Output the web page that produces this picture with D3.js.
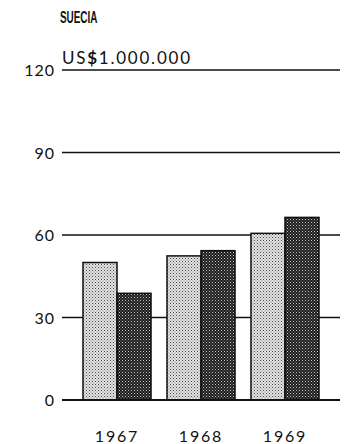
<!DOCTYPE html>
<html><head><meta charset="utf-8">
<script src="https://cdn.jsdelivr.net/npm/d3@7"></script>
<style>html,body{margin:0;padding:0;background:#fff}</style>
</head><body>
<script>
const title = "SUECIA";
const unitLabel = ["US", "$", "1.000.000"];
const years = ["1967", "1968", "1969"];
const seriesLight = [50, 52.4, 60.6];
const seriesDark = [38.8, 54.3, 66.4];
const yTicks = [0, 30, 60, 90, 120];

const W = 347, H = 444;
const svg = d3.select("body").append("svg").attr("width", W).attr("height", H);
const defs = svg.append("defs");

const pl = defs.append("pattern").attr("id", "pLight").attr("patternUnits", "userSpaceOnUse").attr("width", 3).attr("height", 3);
pl.append("rect").attr("width", 3).attr("height", 3).attr("fill", "#e4e4e4");
pl.append("rect").attr("width", 1).attr("height", 1).attr("fill", "#444");
pl.append("rect").attr("x", 1.5).attr("y", 1.5).attr("width", 1).attr("height", 1).attr("fill", "#777");
const pd = defs.append("pattern").attr("id", "pDark").attr("patternUnits", "userSpaceOnUse").attr("width", 3).attr("height", 3);
pd.append("rect").attr("width", 3).attr("height", 3).attr("fill", "#1c1c1c");
pd.append("rect").attr("width", 1).attr("height", 1).attr("fill", "#ccc");
pd.append("rect").attr("x", 1.5).attr("y", 1.5).attr("width", 1).attr("height", 1).attr("fill", "#999");

const y = d3.scaleLinear().domain([0, 120]).range([400, 70]);
const x = d3.scaleBand().domain(years).range([62, 340]).paddingInner(0.19).paddingOuter(0.25);
const xs = d3.scaleBand().domain(["light", "dark"]).range([0, x.bandwidth()]);

const font = "Lato, 'DejaVu Sans', sans-serif";

// gridlines
svg.append("g").selectAll("line").data(yTicks).join("line")
  .attr("x1", 62).attr("x2", 340)
  .attr("y1", d => y(d)).attr("y2", d => y(d))
  .attr("stroke", "#111").attr("stroke-width", d => d === 0 ? 2 : 1.5);

// y labels
svg.append("g").selectAll("text").data(yTicks).join("text")
  .attr("x", 55).attr("y", d => y(d) + 6)
  .attr("text-anchor", "end")
  .attr("font-family", font).attr("font-size", 16).attr("fill", "#111")
  .attr("letter-spacing", 1)
  .text(d => d);

// bars
const groups = svg.append("g").selectAll("g").data(years).join("g")
  .attr("transform", d => `translate(${x(d)},0)`);
groups.append("rect")
  .attr("x", xs("light")).attr("width", xs.bandwidth())
  .attr("y", (d, i) => y(seriesLight[i])).attr("height", (d, i) => y(0) - y(seriesLight[i]))
  .attr("fill", "url(#pLight)").attr("stroke", "#111").attr("stroke-width", 1.5);
groups.append("rect")
  .attr("x", xs("dark")).attr("width", xs.bandwidth())
  .attr("y", (d, i) => y(seriesDark[i])).attr("height", (d, i) => y(0) - y(seriesDark[i]))
  .attr("fill", "url(#pDark)").attr("stroke", "#111").attr("stroke-width", 1.5);

// baseline redraw
svg.append("line").attr("x1", 62).attr("x2", 340).attr("y1", y(0)).attr("y2", y(0))
  .attr("stroke", "#111").attr("stroke-width", 2);

// x labels
svg.append("g").selectAll("text").data(years).join("text")
  .attr("x", d => x(d) + x.bandwidth() / 2).attr("y", 442)
  .attr("text-anchor", "middle")
  .attr("font-family", font).attr("font-size", 16).attr("fill", "#111")
  .attr("letter-spacing", 1.8)
  .text(d => d);

// unit label
const ut = svg.append("text").attr("x", 62).attr("y", 64)
  .attr("font-family", font).attr("font-size", 17).attr("fill", "#111")
  .attr("textLength", 128).attr("lengthAdjust", "spacing");
ut.selectAll("tspan").data(unitLabel).join("tspan")
  .attr("font-weight", (d, i) => i === 1 ? "bold" : "normal")
  .text(d => d);

// title
svg.append("text").attr("x", 60).attr("y", 23)
  .attr("font-family", "'Liberation Sans Narrow', 'Liberation Sans', sans-serif")
  .attr("font-weight", "bold").attr("font-size", 16).attr("fill", "#111")
  .attr("transform", "translate(60,23) scale(0.62,1) translate(-60,-23)")
  .text(title);
</script>
</body></html>
